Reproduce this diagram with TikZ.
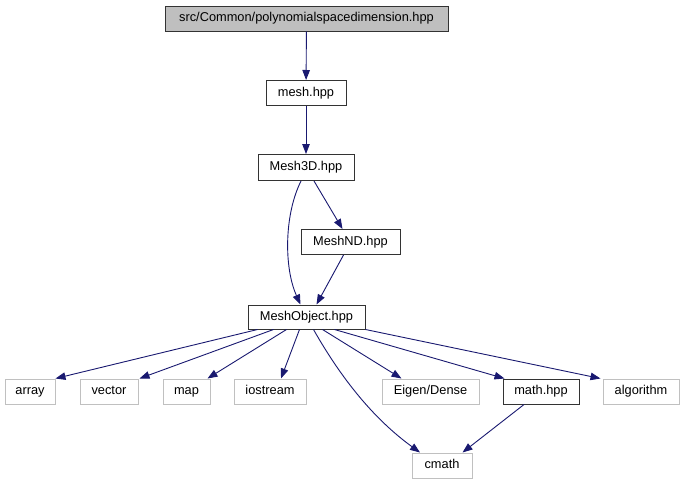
\documentclass[tikz,border=0pt]{standalone}
\usepackage{fontspec}
\setmainfont{Liberation Sans}
\usetikzlibrary{arrows.meta,positioning}

\definecolor{edgeblue}{HTML}{191970}
\definecolor{boxgray}{HTML}{BFBFBF}
\definecolor{sysgray}{HTML}{C0C0C0}

\begin{document}
\begin{tikzpicture}[
    x=1pt, y=-1pt,
    font=\fontsize{12.8}{14}\selectfont,
    header/.style={draw=black!80, line width=1pt, inner sep=0pt, minimum height=25pt,
        text height=9.2pt, text depth=2.6pt},
    root/.style={header, fill=boxgray},
    syshdr/.style={draw=sysgray, line width=1pt, inner sep=0pt, minimum height=25pt,
        text height=9.2pt, text depth=2.6pt},
    incl/.style={-{Triangle[length=10pt,width=7.5pt]}, edgeblue, line width=0.9pt},
]

\useasboundingbox (0,0) rectangle (684,485);

%----------------------------------
% Project headers
%----------------------------------

\node[root, minimum width=283pt] (polydim) at (306.5,18.5) {src/Common/polynomialspacedimension.hpp};

\node[header, minimum width=80pt] (mesh) at (306,93) {mesh.hpp};
\node[header, minimum width=96pt, minimum height=26pt] (mesh3d) at (306,167.5) {Mesh3D.hpp};
\node[header, minimum width=99pt] (meshnd) at (350.5,242) {MeshND.hpp};
\node[header, minimum width=117pt, minimum height=24pt] (meshobj) at (306.5,317) {MeshObject.hpp};
\node[header, minimum width=76pt] (mathhpp) at (541,391.5) {math.hpp};

%----------------------------------
% System headers
%----------------------------------

\node[syshdr, minimum width=50pt] (array) at (30,391.5) {array};
\node[syshdr, minimum width=58pt] (vector) at (109,391.5) {vector};
\node[syshdr, minimum width=47pt] (map) at (186.5,391.5) {map};
\node[syshdr, minimum width=72pt] (iostream) at (270,391.5) {iostream};
\node[syshdr, minimum width=97pt] (eigen) at (430.5,391.5) {Eigen/Dense};
\node[syshdr, minimum width=76pt] (algorithm) at (641,391.5) {algorithm};
\node[syshdr, minimum width=60pt] (cmath) at (442,465.5) {cmath};

%----------------------------------
% Includes
%----------------------------------

\draw[incl] (polydim) -- (mesh);
\draw[incl] (mesh) -- (mesh3d);

\draw[incl] ([xshift=8pt]mesh3d.south) -- ([xshift=-8pt]meshnd.north);
\draw[incl] ([xshift=-5pt]mesh3d.south) .. controls (284,215) and (284,268) .. ([xshift=-6pt]meshobj.north);
\draw[incl] ([xshift=-7pt]meshnd.south) -- ([xshift=10pt]meshobj.north);

\draw[incl] ([xshift=-49pt]meshobj.south) -- (array.north east);
\draw[incl] ([xshift=-33pt]meshobj.south) -- ([xshift=1pt]vector.north east);
\draw[incl] ([xshift=-20pt]meshobj.south) -- ([xshift=-3pt]map.north east);
\draw[incl] ([xshift=-7pt]meshobj.south) -- ([xshift=11pt]iostream.north);
\draw[incl] ([xshift=7pt]meshobj.south) .. controls (345,385) and (378,422) .. ([xshift=-22pt]cmath.north);
\draw[incl] ([xshift=16pt]meshobj.south) -- ([xshift=-29pt]eigen.north);
\draw[incl] ([xshift=28pt]meshobj.south) -- ([xshift=2pt]mathhpp.north west);
\draw[incl] (meshobj.south east) -- ([xshift=-2pt]algorithm.north west);

\draw[incl] ([xshift=-17pt]mathhpp.south) -- ([xshift=-10pt]cmath.north east);

\end{tikzpicture}
\end{document}
